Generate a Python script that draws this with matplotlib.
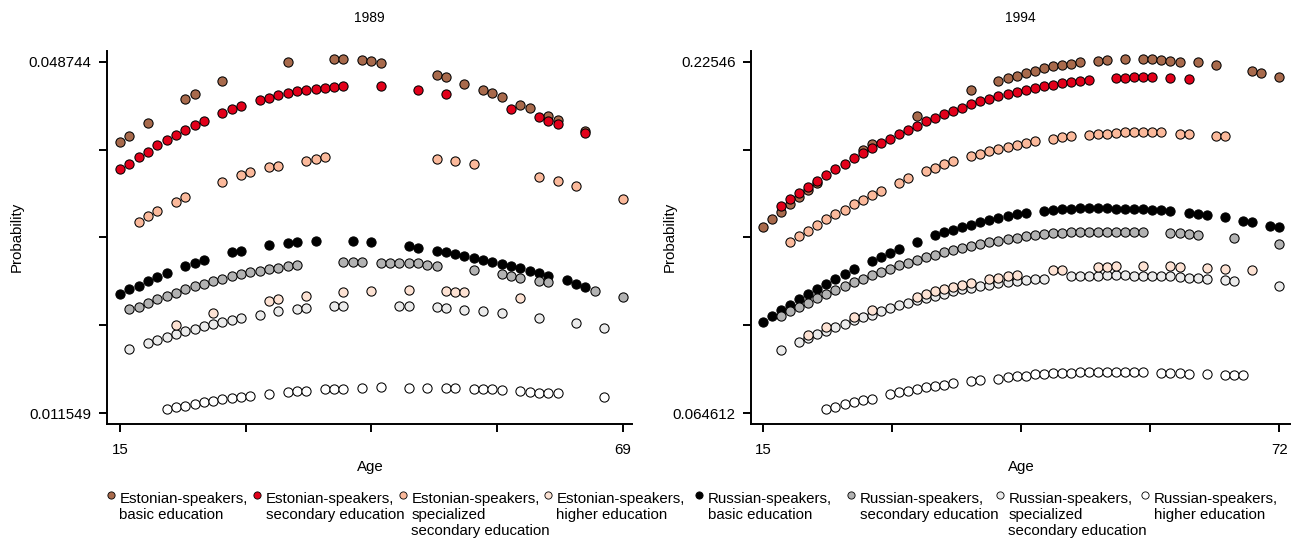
import numpy as np
import matplotlib
matplotlib.use('Agg')
import matplotlib.pyplot as plt
from matplotlib.lines import Line2D

plt.rcParams['font.family'] = ['Liberation Sans', 'DejaVu Sans']

# ---------------- 1989 ----------------
age89_est_basic = [15, 16, 18, 22, 23, 26, 33, 38, 39, 41, 42, 43, 49, 50, 52, 54, 55, 56, 58, 59, 61, 62, 65]
p89_est_basic = [0.0402, 0.0409, 0.0423, 0.0448, 0.0453, 0.0467, 0.0487, 0.0490, 0.0490, 0.0489, 0.0488, 0.0486,
                 0.0473, 0.0471, 0.0464, 0.0457, 0.0454, 0.0450, 0.0442, 0.0438, 0.0430, 0.0426, 0.0414]

age89_est_sec = [15, 16, 17, 18, 19, 20, 21, 22, 23, 24, 26, 27, 28, 30, 31, 32, 33, 34, 35, 36, 37, 38, 39,
                 43, 47, 50, 57, 60, 61, 62, 65]
p89_est_sec = [0.03734, 0.03797, 0.03864, 0.03924, 0.03988, 0.04044, 0.04097, 0.04153, 0.04202, 0.04248,
               0.04332, 0.04374, 0.04406, 0.04466, 0.04495, 0.04527, 0.04544, 0.04565, 0.04580, 0.04590,
               0.04593, 0.04607, 0.04614, 0.04614, 0.04572, 0.04530, 0.04371, 0.04287, 0.04252, 0.04220, 0.04125]

age89_est_spec = [17, 18, 19, 21, 22, 26, 28, 29, 31, 32, 35, 36, 37, 49, 51, 53, 60, 62, 64, 69]
p89_est_spec = [0.03180, 0.03240, 0.03296, 0.03385, 0.03444, 0.03603, 0.03671, 0.03705, 0.03758, 0.03776,
                0.03829, 0.03850, 0.03861, 0.03850, 0.03829, 0.03797, 0.03656, 0.03610, 0.03561, 0.03423]

age89_est_high = [21, 25, 31, 32, 35, 39, 42, 46, 50, 51, 52, 58]
p89_est_high = [0.02088, 0.02212, 0.02342, 0.02360, 0.02395, 0.02440, 0.02451, 0.02455, 0.02448, 0.02437,
                0.02437, 0.02377]

age89_rus_basic = [15, 16, 17, 18, 19, 20, 22, 23, 24, 27, 28, 31, 33, 34, 36, 40, 42, 46, 47, 49, 50, 51, 52,
                   53, 54, 55, 56, 57, 58, 59, 60, 61, 63, 64, 65]
p89_rus_basic = [0.02416, 0.02466, 0.02504, 0.02553, 0.02592, 0.02635, 0.02709, 0.02747, 0.02772, 0.02857,
                 0.02870, 0.02934, 0.02955, 0.02962, 0.02976, 0.02976, 0.02966, 0.02926, 0.02905, 0.02870,
                 0.02857, 0.02839, 0.02818, 0.02793, 0.02775, 0.02757, 0.02733, 0.02709, 0.02687, 0.02662,
                 0.02638, 0.02609, 0.02561, 0.02525, 0.02493]

age89_rus_sec = [16, 17, 18, 19, 20, 21, 22, 23, 24, 25, 26, 27, 28, 29, 30, 31, 32, 33, 34, 39, 40, 41, 43, 44,
                 45, 46, 47, 48, 49, 53, 56, 57, 58, 60, 61, 66, 69]
p89_rus_sec = [0.02254, 0.02282, 0.02324, 0.02363, 0.02395, 0.02430, 0.02466, 0.02497, 0.02525, 0.02553,
               0.02578, 0.02603, 0.02627, 0.02645, 0.02659, 0.02677, 0.02694, 0.02709, 0.02719, 0.02751,
               0.02751, 0.02751, 0.02747, 0.02747, 0.02747, 0.02747, 0.02740, 0.02726, 0.02715, 0.02670,
               0.02624, 0.02609, 0.02588, 0.02553, 0.02546, 0.02444, 0.02387]

age89_rus_spec = [16, 18, 19, 20, 21, 22, 23, 24, 25, 26, 27, 28, 30, 32, 34, 35, 38, 39, 45, 46, 49, 50, 52,
                  54, 56, 60, 64, 67]
p89_rus_spec = [0.01831, 0.01895, 0.01930, 0.01965, 0.01993, 0.02022, 0.02049, 0.02078, 0.02096, 0.02123,
                0.02144, 0.02162, 0.02197, 0.02233, 0.02257, 0.02265, 0.02286, 0.02289, 0.02292, 0.02289,
                0.02275, 0.02268, 0.02250, 0.02233, 0.02212, 0.02159, 0.02106, 0.02060]

age89_rus_high = [20, 21, 22, 23, 24, 25, 26, 27, 28, 29, 31, 33, 34, 35, 37, 38, 39, 41, 43, 46, 48, 50, 51,
                  53, 54, 55, 56, 58, 59, 60, 61, 62, 67]
p89_rus_high = [0.01197, 0.01218, 0.01235, 0.01256, 0.01274, 0.01285, 0.01303, 0.01313, 0.01324, 0.01338,
                0.01359, 0.01377, 0.01387, 0.01394, 0.01412, 0.01412, 0.01415, 0.01425, 0.01430, 0.01425,
                0.01425, 0.01425, 0.01425, 0.01409, 0.01409, 0.01409, 0.01401, 0.01391, 0.01383, 0.01373,
                0.01373, 0.01366, 0.01330]

# ---------------- 1994 ----------------
age94_est_basic = [15, 16, 17, 18, 19, 20, 21, 26, 27, 32, 38, 41, 42, 43, 44, 45, 46, 47, 48, 49, 50, 52, 53,
                   55, 57, 58, 59, 60, 61, 63, 65, 69, 70, 72]
p94_est_basic = [0.1497, 0.1533, 0.1566, 0.1602, 0.1634, 0.1667, 0.1700, 0.1849, 0.1879, 0.2004, 0.2123,
                 0.2167, 0.2179, 0.2191, 0.2203, 0.2213, 0.2224, 0.2233, 0.2239, 0.2246, 0.2251, 0.2260,
                 0.2263, 0.2266, 0.2266, 0.2265, 0.2263, 0.2260, 0.2255, 0.2251, 0.2239, 0.2213, 0.2205, 0.2185]

age94_est_sec = [17, 18, 19, 20, 21, 22, 23, 24, 25, 26, 27, 28, 29, 30, 31, 32, 33, 34, 35, 36, 37, 38, 39,
                 40, 41, 42, 43, 44, 45, 46, 47, 48, 49, 50, 51, 54, 55, 56, 57, 58, 60, 62]
p94_est_sec = [0.1595, 0.1625, 0.1653, 0.1682, 0.1710, 0.1737, 0.1762, 0.1787, 0.1813, 0.1835, 0.1859,
               0.1881, 0.1903, 0.1923, 0.1943, 0.1961, 0.1981, 0.1999, 0.2015, 0.2030, 0.2045, 0.2060,
               0.2073, 0.2086, 0.2098, 0.2108, 0.2117, 0.2127, 0.2135, 0.2143, 0.2150, 0.2158, 0.2162,
               0.2167, 0.2171, 0.2181, 0.2182, 0.2184, 0.2185, 0.2185, 0.2181, 0.2176]

age94_est_spec = [18, 19, 20, 21, 22, 23, 24, 25, 26, 27, 28, 30, 31, 33, 34, 35, 36, 38, 39, 40, 41, 42, 43,
                  44, 45, 47, 48, 49, 51, 52, 53, 54, 55, 56, 57, 58, 59, 61, 62, 65, 66]
p94_est_spec = [0.1429, 0.1459, 0.1482, 0.1509, 0.1534, 0.1556, 0.1577, 0.1603, 0.1623, 0.1644, 0.1664,
                0.1700, 0.1722, 0.1753, 0.1769, 0.1785, 0.1800, 0.1823, 0.1833, 0.1844, 0.1856, 0.1866,
                0.1875, 0.1883, 0.1890, 0.1902, 0.1908, 0.1913, 0.1920, 0.1923, 0.1926, 0.1929, 0.1931,
                0.1931, 0.1931, 0.1931, 0.1931, 0.1926, 0.1926, 0.1915, 0.1914]

age94_est_high = [20, 22, 25, 27, 32, 33, 34, 35, 36, 37, 38, 40, 41, 42, 43, 47, 48, 52, 53, 54, 57, 60, 61,
                  64, 66, 69]
p94_est_high = [0.1004, 0.1039, 0.1088, 0.1120, 0.1178, 0.1192, 0.1204, 0.1213, 0.1222, 0.1231, 0.1241,
                0.1260, 0.1267, 0.1273, 0.1279, 0.1300, 0.1303, 0.1315, 0.1315, 0.1318, 0.1320, 0.1320,
                0.1316, 0.1312, 0.1307, 0.1303]

age94_rus_basic = [15, 16, 17, 18, 19, 20, 21, 22, 23, 24, 25, 27, 28, 29, 30, 32, 34, 35, 36, 37, 38, 39, 40,
                   41, 42, 43, 44, 46, 47, 48, 49, 50, 51, 52, 53, 54, 55, 56, 57, 58, 59, 60, 62, 63, 64, 66,
                   68, 69, 71, 72]
p94_rus_basic = [0.1065, 0.1091, 0.1118, 0.1143, 0.1167, 0.1190, 0.1214, 0.1237, 0.1262, 0.1283, 0.1305,
                 0.1344, 0.1362, 0.1379, 0.1397, 0.1431, 0.1460, 0.1474, 0.1486, 0.1498, 0.1508, 0.1521,
                 0.1530, 0.1539, 0.1550, 0.1557, 0.1561, 0.1573, 0.1577, 0.1580, 0.1582, 0.1585, 0.1585,
                 0.1585, 0.1585, 0.1583, 0.1583, 0.1582, 0.1580, 0.1577, 0.1576, 0.1572, 0.1563, 0.1557,
                 0.1554, 0.1544, 0.1527, 0.1519, 0.1504, 0.1497]

age94_rus_sec = [17, 18, 19, 20, 21, 22, 23, 24, 25, 26, 27, 28, 29, 30, 31, 32, 33, 34, 35, 36, 37, 38, 39,
                 40, 41, 42, 43, 44, 45, 46, 47, 48, 49, 50, 51, 52, 53, 54, 55, 56, 57, 60, 61, 62, 63, 67, 72]
p94_rus_sec = [0.1092, 0.1114, 0.1132, 0.1152, 0.1173, 0.1192, 0.1210, 0.1228, 0.1246, 0.1262, 0.1277,
               0.1292, 0.1307, 0.1323, 0.1335, 0.1347, 0.1359, 0.1371, 0.1382, 0.1391, 0.1402, 0.1411,
               0.1419, 0.1428, 0.1435, 0.1443, 0.1449, 0.1455, 0.1460, 0.1465, 0.1469, 0.1472, 0.1474,
               0.1475, 0.1476, 0.1476, 0.1476, 0.1476, 0.1476, 0.1476, 0.1475, 0.1470, 0.1469, 0.1466,
               0.1463, 0.1446, 0.1420]

age94_rus_spec = [17, 19, 20, 21, 22, 23, 24, 25, 26, 27, 28, 29, 30, 31, 32, 33, 34, 35, 36, 37, 38, 39, 40,
                  41, 42, 43, 44, 45, 46, 49, 50, 51, 52, 53, 54, 55, 56, 57, 58, 59, 60, 61, 62, 63, 64, 66,
                  67, 72]
p94_rus_spec = [0.0937, 0.0973, 0.0992, 0.1009, 0.1024, 0.1039, 0.1054, 0.1071, 0.1085, 0.1097, 0.1114,
                0.1128, 0.1140, 0.1152, 0.1163, 0.1175, 0.1184, 0.1193, 0.1204, 0.1213, 0.1220, 0.1228,
                0.1234, 0.1240, 0.1245, 0.1250, 0.1255, 0.1259, 0.1262, 0.1273, 0.1274, 0.1275, 0.1275,
                0.1277, 0.1277, 0.1277, 0.1275, 0.1275, 0.1274, 0.1273, 0.1273, 0.1269, 0.1266, 0.1263,
                0.1260, 0.1256, 0.1250, 0.1230]

age94_rus_high = [22, 23, 24, 25, 26, 27, 29, 30, 31, 32, 33, 34, 35, 36, 38, 39, 41, 42, 43, 44, 45, 46, 47,
                  48, 49, 50, 51, 52, 53, 54, 55, 56, 57, 59, 60, 61, 62, 64, 66, 67, 68]
p94_rus_high = [0.0664, 0.0676, 0.0687, 0.0698, 0.0707, 0.0713, 0.0734, 0.0742, 0.0749, 0.0759, 0.0765,
                0.0771, 0.0777, 0.0783, 0.0792, 0.0798, 0.0804, 0.0811, 0.0816, 0.0819, 0.0824, 0.0827,
                0.0829, 0.0830, 0.0832, 0.0834, 0.0834, 0.0834, 0.0834, 0.0834, 0.0834, 0.0834, 0.0834,
                0.0830, 0.0830, 0.0829, 0.0827, 0.0826, 0.0823, 0.0821, 0.0820]

labels = ['Estonian-speakers,\nbasic education',
          'Estonian-speakers,\nsecondary education',
          'Estonian-speakers,\nspecialized\nsecondary education',
          'Estonian-speakers,\nhigher education',
          'Russian-speakers,\nbasic education',
          'Russian-speakers,\nsecondary education',
          'Russian-speakers,\nspecialized\nsecondary education',
          'Russian-speakers,\nhigher education']
colors = ['#a86a4c', '#e2001a', '#fbb99b', '#fde2d3', '#000000', '#b2b2b2', '#ebebeb', '#ffffff']

series89 = [(age89_est_basic, p89_est_basic), (age89_est_sec, p89_est_sec), (age89_est_spec, p89_est_spec),
            (age89_est_high, p89_est_high), (age89_rus_basic, p89_rus_basic), (age89_rus_sec, p89_rus_sec),
            (age89_rus_spec, p89_rus_spec), (age89_rus_high, p89_rus_high)]
series94 = [(age94_est_basic, p94_est_basic), (age94_est_sec, p94_est_sec), (age94_est_spec, p94_est_spec),
            (age94_est_high, p94_est_high), (age94_rus_basic, p94_rus_basic), (age94_rus_sec, p94_rus_sec),
            (age94_rus_spec, p94_rus_spec), (age94_rus_high, p94_rus_high)]

W, H = 1293.0, 539.0
FS = 10.8


def box(x0, y0, x1, y1):
    return [x0 / W, 1 - y1 / H, (x1 - x0) / W, (y1 - y0) / H]


def panel(ax, series, xr, yr, ylabs, xlabs, xlim):
    for i in [4, 5, 6, 7, 0, 1, 2, 3]:
        a, p = series[i]
        ax.scatter(a, p, s=44, c=colors[i], edgecolors='black', linewidths=0.75, zorder=3, clip_on=False)
    lo, hi = yr
    pad = (hi - lo) * 0.0304
    ax.set_ylim(lo - pad, hi + pad)
    ax.set_xlim(*xlim)
    ax.set_yticks(np.linspace(lo, hi, 5))
    ax.set_yticklabels([ylabs[0], '', '', '', ylabs[1]])
    ax.set_xticks(np.linspace(xr[0], xr[1], 5))
    ax.set_xticklabels([xlabs[0], '', '', '', xlabs[1]])
    for s in ['top', 'right']:
        ax.spines[s].set_visible(False)
    for s in ['left', 'bottom']:
        ax.spines[s].set_linewidth(1.4)
    ax.tick_params(axis='both', direction='out', length=5.8, width=1.4, labelsize=FS)
    ax.tick_params(axis='y', pad=5.3)
    ax.tick_params(axis='x', pad=8)


fig = plt.figure(figsize=(12.93, 5.39), dpi=100)
ax1 = fig.add_axes(box(107, 51, 632, 424))
ax2 = fig.add_axes(box(751, 51, 1290, 424))

panel(ax1, series89, (15, 69), (0.011549, 0.048744), ('0.011549', '0.048744'), ('15', '69'), (13.6, 70.0))
panel(ax2, series94, (15, 72), (0.064612, 0.22546), ('0.064612', '0.22546'), ('15', '72'), (13.67, 73.2))


def ftext(x, y, s, **kw):
    fig.text(x / W, 1 - y / H, s, **kw)


ftext(369.5, 18, '1989', ha='center', va='center', fontsize=10)
ftext(1020.5, 18, '1994', ha='center', va='center', fontsize=10)
ftext(370, 467, 'Age', ha='center', va='center', fontsize=FS)
ftext(1021, 467, 'Age', ha='center', va='center', fontsize=FS)
ftext(17, 237, 'Probability', ha='center', va='center', rotation=90, fontsize=FS)
ftext(670, 237, 'Probability', ha='center', va='center', rotation=90, fontsize=FS)

# legend
leg_x = [111, 257, 403, 548, 699, 851, 1000, 1145]
for i, lab in enumerate(labels):
    fig.add_artist(Line2D([leg_x[i] / W], [1 - 495 / H], marker='o', markersize=5.2, linestyle='none',
                          markerfacecolor=colors[i], markeredgecolor='black', markeredgewidth=0.6,
                          transform=fig.transFigure))
    ftext(leg_x[i] + 8.5, 491.5, lab, ha='left', va='top', fontsize=FS, linespacing=1.2)

fig.savefig('out.png', dpi=100)
